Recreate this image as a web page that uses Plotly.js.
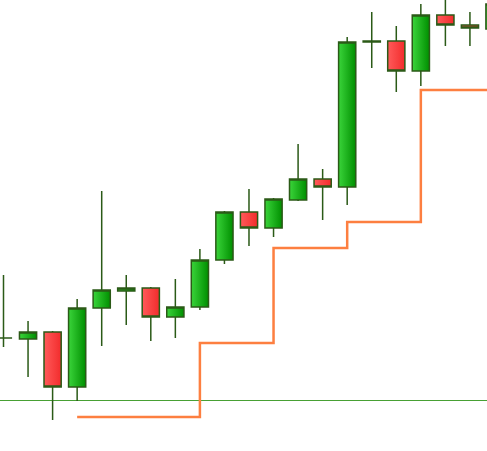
<!DOCTYPE html>
<html>
<head>
<meta charset="utf-8">
<script src="https://cdn.plot.ly/plotly-3.0.1.min.js"></script>
<style>
  html, body { margin: 0; padding: 0; background: #ffffff; }
  #chart { width: 487px; height: 451px; }
</style>
</head>
<body>
<div id="chart"></div>
<script>
// Bar index (one per candle)
const bars = [0,1,2,3,4,5,6,7,8,9,10,11,12,13,14,15,16,17,18,19,20];
const opens  = [1.2113,1.2112,1.2119,1.2064,1.2143,1.2160,1.2163,1.2134,1.2144,1.2191,1.2239,1.2223,1.2251,1.2272,1.2264,1.2409,1.2410,1.2380,1.2436,1.2426,1.2422];
const highs  = [1.2176,1.2130,1.2120,1.2152,1.2260,1.2176,1.2164,1.2172,1.2202,1.2240,1.2262,1.2253,1.2307,1.2282,1.2414,1.2439,1.2425,1.2447,1.2456,1.2439,1.2461];
const lows   = [1.2104,1.2074,1.2031,1.2050,1.2105,1.2126,1.2110,1.2113,1.2141,1.2187,1.2205,1.2214,1.2250,1.2231,1.2246,1.2383,1.2359,1.2365,1.2405,1.2405,1.2418];
const closes = [1.2113,1.2119,1.2064,1.2143,1.2161,1.2163,1.2134,1.2144,1.2191,1.2239,1.2223,1.2252,1.2272,1.2264,1.2409,1.2410,1.2380,1.2436,1.2426,1.2423,1.2447];
// Stepped trailing level (orange)
const stepLevel = [null,null,null,1.2034,1.2034,1.2034,1.2034,1.2034,1.2108,1.2108,1.2108,1.2203,1.2203,1.2203,1.2229,1.2229,1.2229,1.2361,1.2361,1.2361,1.2361];
// Horizontal level (green line)
const hLevel = 1.20505;

const outline = '#2b5a17';

const traces = [
  {
    type: 'candlestick',
    x: bars, open: opens, high: highs, low: lows, close: closes,
    increasing: { line: { color: outline, width: 1.5 }, fillcolor: '#1db81d' },
    decreasing: { line: { color: outline, width: 1.5 }, fillcolor: '#ff4040' },
    whiskerwidth: 0,
    hoverinfo: 'skip',
    showlegend: false
  },
  {
    type: 'scatter', mode: 'lines',
    x: bars, y: stepLevel,
    line: { color: '#fd7f40', width: 2.5, shape: 'hv' },
    connectgaps: false,
    hoverinfo: 'skip',
    showlegend: false
  }
];

const layout = {
  width: 487, height: 451,
  margin: { l: 0, r: 0, t: 0, b: 0, pad: 0 },
  paper_bgcolor: '#ffffff',
  plot_bgcolor: '#ffffff',
  showlegend: false,
  boxgap: 0,
  xaxis: { range: [-0.1426, 19.695], visible: false, rangeslider: { visible: false }, fixedrange: true },
  yaxis: { range: [1.2000, 1.2451], visible: false, fixedrange: true },
  shapes: [
    { type: 'line', xref: 'paper', x0: 0, x1: 1, yref: 'y', y0: hLevel, y1: hLevel,
      line: { color: '#47a034', width: 1 }, layer: 'below' }
  ]
};

Plotly.newPlot('chart', traces, layout, { displayModeBar: false, staticPlot: true }).then(function (gd) {
  // add horizontal gradients to candle bodies
  const svg = gd.querySelector('svg.main-svg');
  const ns = 'http://www.w3.org/2000/svg';
  let defs = svg.querySelector('defs');
  if (!defs) { defs = document.createElementNS(ns, 'defs'); svg.insertBefore(defs, svg.firstChild); }
  function grad(id, c1, c2) {
    const g = document.createElementNS(ns, 'linearGradient');
    g.setAttribute('id', id);
    g.setAttribute('x1', '0'); g.setAttribute('y1', '0');
    g.setAttribute('x2', '1'); g.setAttribute('y2', '0');
    const s1 = document.createElementNS(ns, 'stop'); s1.setAttribute('offset', '0'); s1.setAttribute('stop-color', c1);
    const s2 = document.createElementNS(ns, 'stop'); s2.setAttribute('offset', '1'); s2.setAttribute('stop-color', c2);
    g.appendChild(s1); g.appendChild(s2); defs.appendChild(g);
  }
  grad('gradUp', '#3ad43a', '#008f00');
  grad('gradDn', '#ff5a5a', '#f22c2c');
  gd.querySelectorAll('g.trace.boxes path.box').forEach(function (p) {
    const f = p.style.fill || '';
    if (f.indexOf('29, 184, 29') >= 0) p.style.fill = 'url(#gradUp)';
    else if (f.indexOf('255, 64, 64') >= 0) p.style.fill = 'url(#gradDn)';
  });
});
</script>
</body>
</html>
